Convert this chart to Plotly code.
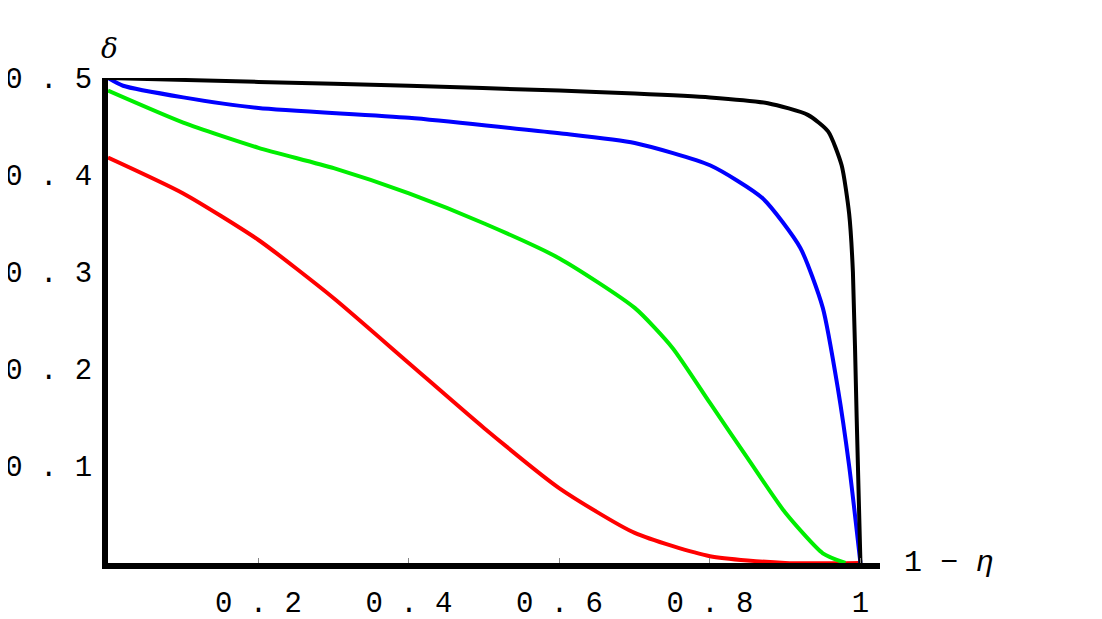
import plotly.graph_objects as go

x_black = [0, 0.2, 0.4, 0.6, 0.7, 0.8, 0.877, 0.93, 0.957, 0.975, 0.985, 0.99, 0.995, 1.0]
y_black = [0.5, 0.496, 0.492, 0.487, 0.484, 0.48, 0.474, 0.462, 0.445, 0.41, 0.36, 0.3, 0.15, 0.0]
x_blue = [0, 0.02, 0.1, 0.2, 0.4, 0.6, 0.7, 0.8, 0.87, 0.92, 0.95, 0.97, 0.985, 1.0]
y_blue = [0.5, 0.492, 0.48, 0.469, 0.459, 0.443, 0.433, 0.41, 0.376, 0.325, 0.263, 0.18, 0.1, 0.0]
x_green = [0, 0.1, 0.2, 0.3, 0.4, 0.5, 0.6, 0.7, 0.75, 0.8, 0.85, 0.9, 0.95, 0.98]
y_green = [0.487, 0.454, 0.428, 0.407, 0.381, 0.35, 0.314, 0.263, 0.222, 0.165, 0.108, 0.052, 0.01, 0.0]
x_red = [0, 0.1, 0.2, 0.3, 0.4, 0.5, 0.6, 0.7, 0.8, 0.9, 1.0]
y_red = [0.418, 0.381, 0.333, 0.273, 0.206, 0.139, 0.077, 0.031, 0.007, 0.0, 0.0]

x_ticks = [0.2, 0.4, 0.6, 0.8, 1.0]
x_labels = ["0.2", "0.4", "0.6", "0.8", "1"]
y_ticks = [0.1, 0.2, 0.3, 0.4, 0.5]
y_labels = ["0.1", "0.2", "0.3", "0.4", "0.5"]

def sp(s):
    return " ".join(s)

fig = go.Figure()
for xs, ys, c in [(x_red, y_red, "#ff0000"), (x_green, y_green, "#00ee00"),
                  (x_blue, y_blue, "#0000ff"), (x_black, y_black, "#000000")]:
    fig.add_trace(go.Scatter(x=xs, y=ys, mode="lines", line=dict(color=c, width=4, shape="spline", smoothing=0.6),
                             showlegend=False, cliponaxis=False))

font = dict(family="Liberation Mono, Courier New, monospace", size=29, color="black")
fig.update_layout(
    width=1102, height=619, plot_bgcolor="white", paper_bgcolor="white",
    margin=dict(l=100, r=230, t=70, b=64),
    xaxis=dict(range=[0, 1.026], showgrid=False, zeroline=False, showline=True, linecolor="black",
               linewidth=6, tickvals=x_ticks, ticktext=[sp(t) for t in x_labels], ticks="inside",
               ticklen=5, tickcolor="#888", tickfont=font, ticklabelstandoff=8, automargin=False),
    yaxis=dict(range=[0, 0.5], showgrid=False, zeroline=False, showline=True, linecolor="black",
               linewidth=6, tickvals=y_ticks, ticktext=[sp(t) for t in y_labels], ticks="",
               tickfont=font, ticklabelstandoff=4, automargin=False),
    annotations=[
        dict(x=0, y=1.0, xref="x", yref="paper", text="<i>δ</i>", showarrow=False,
             xshift=1, yshift=48, font=dict(family="DejaVu Serif", size=28, color="black")),
        dict(x=1.026, y=0, xref="x", yref="y", text="1 − <i>η</i>", showarrow=False,
             xanchor="left", xshift=22, font=dict(family="Liberation Mono", size=30, color="black")),
    ],
)
fig.write_html("out.html")
